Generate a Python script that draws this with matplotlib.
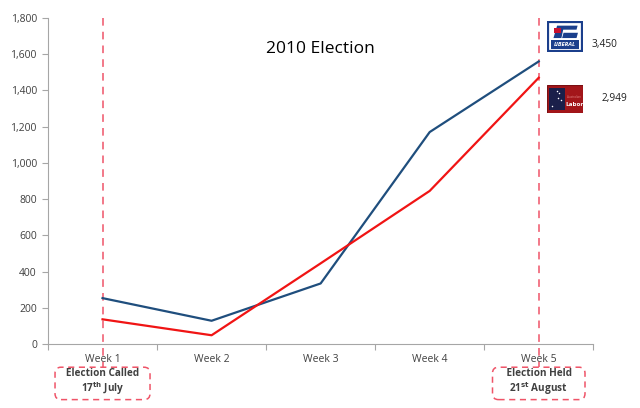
import matplotlib
matplotlib.use("Agg")
import matplotlib.pyplot as plt
from matplotlib.patches import Rectangle, Polygon
from matplotlib.ticker import FuncFormatter, FixedLocator
from matplotlib.transforms import blended_transform_factory

plt.rcParams['font.family'] = ['Open Sans', 'DejaVu Sans']

# data
weeks = ["Week 1", "Week 2", "Week 3", "Week 4", "Week 5"]
liberal = [253, 128, 334, 1170, 1560]
labor = [136, 48, 445, 845, 1470]
totals = ["3,450", "2,949"]
events = ["   Election Called   \n17$^{\\mathbf{th}}$ July", "    Election Held    \n21$^{\\mathbf{st}}$ August"]
event_weeks = [0, 4]

BLUE = '#1f4e7d'
RED = '#f01414'
PINK = '#ef5468'
NAVY = '#1b3f8c'

fig = plt.figure(figsize=(6.4, 4.08), dpi=100)
ax = fig.add_axes([0.075, 0.157, 0.852, 0.799])

x = list(range(len(weeks)))
ax.plot(x, liberal, color=BLUE, lw=1.6, zorder=3)
ax.plot(x, labor, color=RED, lw=1.6, zorder=3)

ax.set_xlim(-0.5, len(weeks) - 0.5)
ax.set_ylim(0, 1800)
ax.set_yticks(range(0, 1801, 200))
ax.yaxis.set_major_formatter(FuncFormatter(lambda v, p: f"{int(v):,}"))

# excel style category axis: ticks between categories, labels centred
ax.xaxis.set_major_locator(FixedLocator([i - 0.5 for i in range(len(weeks) + 1)]))
ax.xaxis.set_minor_locator(FixedLocator(x))
ax.set_xticklabels([])
ax.set_xticklabels(weeks, minor=True)
ax.tick_params(axis='x', which='major', length=4, color='#a6a6a6', direction='out')
ax.tick_params(axis='x', which='minor', length=0, pad=7, labelsize=7.5, labelcolor='#404040')
ax.tick_params(axis='y', length=4, color='#a6a6a6', labelsize=7.5, labelcolor='#404040', pad=4)

for s in ['top', 'right']:
    ax.spines[s].set_visible(False)
for s in ['left', 'bottom']:
    ax.spines[s].set_color('#a6a6a6')
    ax.spines[s].set_linewidth(0.8)

ax.text(0.5, 0.905, "2010 Election", transform=ax.transAxes, ha='center', va='center',
        fontsize=12.5, color='#000000')

# election called / held markers
trans = blended_transform_factory(ax.transData, ax.transAxes)
for wk, label in zip(event_weeks, events):
    ax.plot([wk, wk], [1.0, -0.07], transform=trans, color=PINK, lw=1.1,
            ls=(0, (5, 4)), clip_on=False, zorder=2)
    ax.text(wk, -0.118, label, transform=trans, ha='center', va='center',
            fontsize=7.2, fontweight='bold', color='#404040', linespacing=1.05,
            multialignment='center',
            bbox=dict(boxstyle='round,pad=0.3,rounding_size=0.6', fc='white',
                      ec=PINK, lw=1.1, ls=(0, (4, 3))))

# Liberal logo
lib = fig.add_axes([547 / 640, 1 - 52 / 408, 36 / 640, 31 / 408])
lib.set_xlim(0, 1)
lib.set_ylim(0, 1)
lib.axis('off')
lib.add_patch(Rectangle((0.03, 0.03), 0.94, 0.94, fc='white', ec=NAVY, lw=1.6))
lib.add_patch(Polygon([[0.18, 0.45], [0.28, 0.85], [0.85, 0.85], [0.82, 0.72], [0.45, 0.72], [0.4, 0.45]],
                      closed=True, fc=NAVY, ec='none'))
lib.add_patch(Polygon([[0.42, 0.45], [0.46, 0.62], [0.86, 0.62], [0.82, 0.45]],
                      closed=True, fc=NAVY, ec='none'))
lib.add_patch(Rectangle((0.2, 0.6), 0.2, 0.16, fc='#c8102e', ec='none'))
lib.add_patch(Rectangle((0.1, 0.1), 0.8, 0.3, fc=NAVY, ec='none'))
lib.text(0.5, 0.25, "LIBERAL", ha='center', va='center', fontsize=4.2, color='white',
         fontweight='bold', style='italic')

# Labor logo
lab = fig.add_axes([547 / 640, 1 - 113 / 408, 36 / 640, 28 / 408])
lab.set_xlim(0, 1)
lab.set_ylim(0, 1)
lab.axis('off')
lab.add_patch(Rectangle((0, 0), 1, 1, fc='#a3161a', ec='#7a0f12', lw=0.8))
lab.add_patch(Rectangle((0.06, 0.1), 0.44, 0.8, fc='#1a1f4a', ec='none'))
lab.scatter([0.15, 0.3, 0.38, 0.34, 0.27], [0.25, 0.55, 0.45, 0.7, 0.78], s=1.2, c='white', lw=0)
lab.text(0.76, 0.58, "Australian", ha='center', va='center', fontsize=2.2, color='#e08080')
lab.text(0.76, 0.3, "Labor", ha='center', va='center', fontsize=4.6, color='white', fontweight='bold')

fig.text(592 / 640, 1 - 45 / 408, totals[0], ha='left', va='center', fontsize=7.3, color='#202020')
fig.text(602 / 640, 1 - 99 / 408, totals[1], ha='left', va='center', fontsize=7.3, color='#202020')

fig.savefig("out.png", dpi=100)
